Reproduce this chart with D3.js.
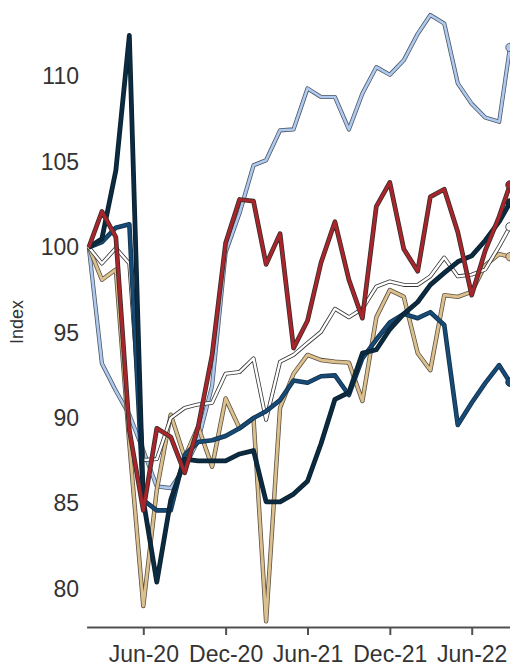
<!DOCTYPE html>
<html>
<head>
<meta charset="utf-8">
<script src="https://cdn.jsdelivr.net/npm/d3@7"></script>
<style>
  body { margin: 0; background: #fff; }
  svg { display: block; font-family: "Liberation Sans", Arial, sans-serif; }
</style>
</head>
<body>
<div id="main"></div>
<script>
// monthly points, last one is the latest reading
var dates = ["2020-02-01","2020-03-01","2020-04-01","2020-05-01","2020-06-01","2020-07-01","2020-08-01","2020-09-01",
    "2020-10-01","2020-11-01","2020-12-01","2021-01-01","2021-02-01","2021-03-01","2021-04-01","2021-05-01",
    "2021-06-01","2021-07-01","2021-08-01","2021-09-01","2021-10-01","2021-11-01","2021-12-01","2022-01-01",
    "2022-02-01","2022-03-01","2022-04-01","2022-05-01","2022-06-01","2022-07-01","2022-08-01","2022-08-25"];

var lightBlue = [100, 93.2, 91.6, 90.2, 88.1, 86.0, 85.9, 87.1, 88.7, 91.9, 99.7, 102.0, 104.8, 105.1, 106.85, 106.9,
    109.3, 108.8, 108.8, 106.9, 109.0, 110.55, 110.1, 110.95, 112.5, 113.6, 113.1, 109.6, 108.4, 107.6, 107.35, 111.7];
var tan = [100, 98.1, 98.7, 88.5, 79.0, 85.8, 90.2, 87.7, 89.5, 87.15, 91.15, 89.4, 90.0, 78.1, 90.6, 92.6,
    93.7, 93.4, 93.3, 93.25, 91.0, 95.9, 97.5, 97.1, 93.8, 92.8, 97.2, 97.1, 97.4, 98.95, 99.6, 99.45];
var white = [100, 99.05, 99.95, 99.05, 87.55, 87.6, 90.0, 90.6, 90.8, 90.9, 92.6, 92.7, 93.5, 89.9, 93.3, 93.7,
    94.4, 95.05, 96.4, 95.9, 96.4, 97.7, 98.0, 97.8, 97.8, 98.3, 99.4, 98.3, 98.4, 98.7, 100.05, 101.2];
var midBlue = [100, 100.3, 101.15, 101.35, 85.2, 84.6, 84.6, 87.85, 88.6, 88.7, 88.95, 89.4, 90.0, 90.4, 91.05, 92.2,
    92.07, 92.45, 92.5, 91.35, 93.5, 94.6, 95.6, 96.1, 95.85, 96.2, 95.45, 89.6, 90.9, 92.05, 93.1, 92.1];
var navy = [100, 100.5, 104.5, 112.4, 85.2, 80.4, 85.2, 87.6, 87.5, 87.5, 87.5, 87.9, 88.1, 85.1, 85.1, 85.55,
    86.3, 88.5, 91.1, 91.5, 93.8, 94.0, 95.2, 96.1, 96.8, 97.8, 98.5, 99.15, 99.5, 100.4, 101.5, 102.6];
var red = [100, 102.1, 100.6, 89.3, 84.6, 89.4, 88.9, 86.8, 89.5, 93.7, 100.25, 102.8, 102.7, 99.0, 100.8, 94.1,
    95.7, 99.1, 101.5, 98.1, 95.85, 102.4, 103.8, 99.9, 98.6, 102.95, 103.4, 100.9, 97.2, 99.8, 101.8, 103.65];

var xTicks = ["2020-06-01","2020-12-01","2021-06-01","2021-12-01","2022-06-01"];
var yTicks = [80, 85, 90, 95, 100, 105, 110];

var width = 510,
    height = 666;

var parse = d3.timeParse("%Y-%m-%d");

var series = [
    {vals: lightBlue, color: "#aecaf0", edge: "#4f5863", w: 2.6},
    {vals: tan,       color: "#dcc18f", edge: "#5c5244", w: 2.8},
    {vals: white,     color: "#ffffff", edge: "#333333", w: 2.4},
    {vals: midBlue,   color: "#184a76", edge: "#10304c", w: 3.0},
    {vals: navy,      color: "#0c2b40", edge: "#09202f", w: 3.2},
    {vals: red,       color: "#a8262b", edge: "#3b2b2b", w: 3.1}
];

var svg = d3.select("#main").append("svg")
    .attr("width", width)
    .attr("height", height);

var x = d3.scaleTime()
    .domain([parse("2020-01-27"), parse("2022-09-01")])
    .range([86.6, 513.1]);

var y = d3.scaleLinear()
    .domain([80, 110])
    .range([588.9, 76.5]);

// x axis
var xAxis = svg.append("g")
    .attr("transform", "translate(0,627)")
    .call(d3.axisBottom(x)
        .tickValues(xTicks.map(parse))
        .tickFormat(d3.timeFormat("%b-%y"))
        .tickSize(8)
        .tickSizeOuter(0));
xAxis.select(".domain").attr("stroke", "#505050").attr("stroke-width", 2);
xAxis.selectAll(".tick line").attr("stroke", "#505050").attr("stroke-width", 2);
xAxis.selectAll(".tick text")
    .attr("y", 35)
    .attr("dy", null)
    .attr("fill", "#333")
    .style("font-size", "23px");

// y axis, labels only
var yAxis = svg.append("g")
    .attr("transform", "translate(85,0)")
    .call(d3.axisLeft(y).tickValues(yTicks).tickSize(0).tickPadding(6));
yAxis.select(".domain").remove();
yAxis.selectAll(".tick text")
    .attr("fill", "#333")
    .style("font-size", "23px");

svg.append("text")
    .attr("transform", "translate(23,322) rotate(-90)")
    .attr("text-anchor", "middle")
    .attr("fill", "#333")
    .style("font-size", "18px")
    .text("Index");

var line = d3.line()
    .x(function(d, i) { return x(parse(dates[i])); })
    .y(function(d) { return y(d); });

series.forEach(function(s) {
    var g = svg.append("g");
    g.append("path")
        .attr("d", line(s.vals))
        .attr("fill", "none")
        .attr("stroke", s.edge)
        .attr("stroke-width", s.w + 1.6)
        .attr("stroke-linejoin", "round");
    g.append("path")
        .attr("d", line(s.vals))
        .attr("fill", "none")
        .attr("stroke", s.color)
        .attr("stroke-width", s.w)
        .attr("stroke-linejoin", "round");
    var last = s.vals.length - 1;
    g.append("circle")
        .attr("cx", x(parse(dates[last])))
        .attr("cy", y(s.vals[last]))
        .attr("r", 4.2)
        .attr("fill", s.color)
        .attr("stroke", s.edge)
        .attr("stroke-width", 0.9);
});
</script>
</body>
</html>
